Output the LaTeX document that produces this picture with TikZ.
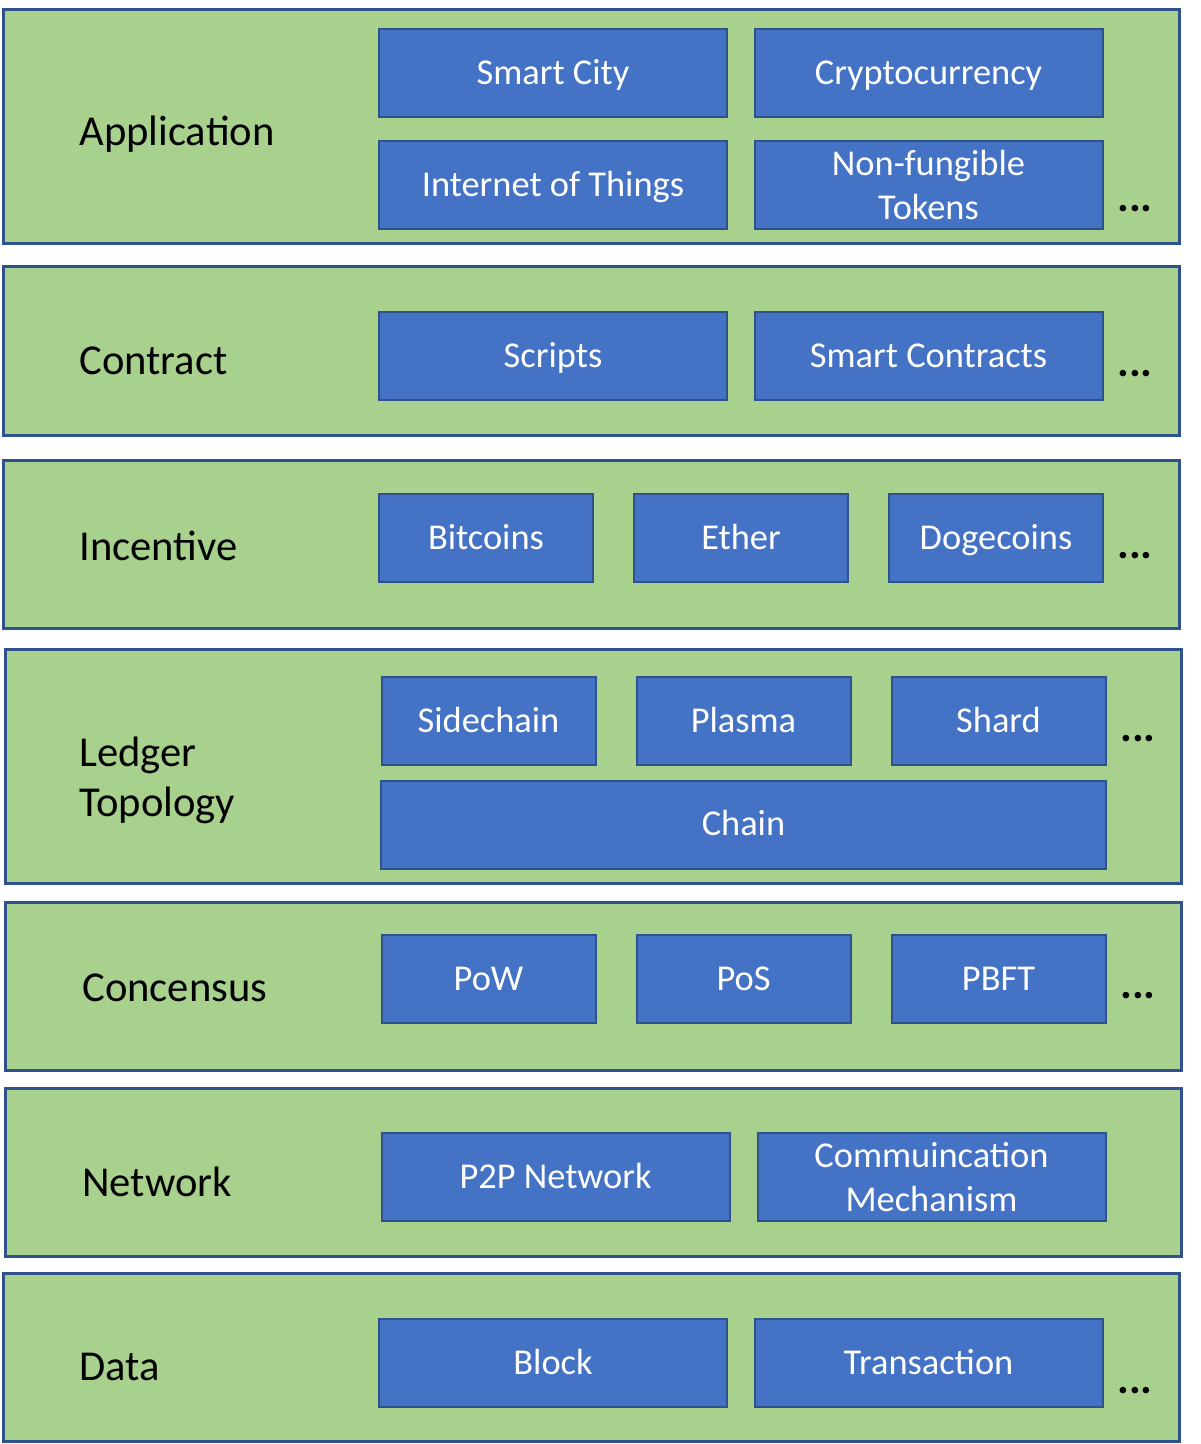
\documentclass[tikz,border=0pt]{standalone}
\usepackage{fontspec}
\setmainfont{Carlito}
\usetikzlibrary{positioning}
\definecolor{layergreen}{HTML}{A9D18E}
\definecolor{boxblue}{HTML}{4472C4}
\definecolor{edgeblue}{HTML}{2F528F}
\tikzset{
  layer/.style = {draw=edgeblue, fill=layergreen, line width=1.5pt,
    minimum width=588pt, inner sep=0pt},
  lay_s/.style = {layer, minimum height=84pt},% couche basse
  lay_t/.style = {layer, minimum height=117pt},% couche haute
  blk/.style = {draw=edgeblue, fill=boxblue, line width=1pt, text=white,
    font=\fontsize{18.2}{22}\selectfont, align=center, inner sep=0pt,
    minimum height=44pt},
  one/.style = {text height=12.2pt, text depth=1pt},% une seule ligne
  blk_w/.style = {blk, one, minimum width=174pt},% boite large
  blk_n/.style = {blk, one, minimum width=107pt},% boite etroite
  lbl/.style = {anchor=west, align=left, inner sep=0pt,
    font=\fontsize{21.3}{25}\selectfont},
  more/.style = {inner sep=0pt, font=\fontsize{22}{25}\selectfont\bfseries},
}

\begin{document}
\begin{tikzpicture}[x=0.5pt, y=-0.5pt]
\useasboundingbox (0,0) rectangle (1200,1444);
% layers
\node [lay_t] (app) at (591,127) {};
\node [lay_s] (con) at (591,351) {};
\node [lay_s] (inc) at (591,544.5) {};
\node [lay_t] (led) at (593,766.5) {};
\node [lay_s] (cns) at (593,986) {};
\node [lay_s] (net) at (593,1172.5) {};
\node [lay_s] (dat) at (591,1357.5) {};
% labels
\node [lbl] (app_l) at (79,134) {Application};
\node [lbl] (con_l) at (79,361) {Contract};
\node [lbl] (inc_l) at (79,546) {Incentive};
\node [lbl] (led_l) at (79,780) {Ledger\\Topology};
\node [lbl] (cns_l) at (82,988) {Concensus};
\node [lbl] (net_l) at (82,1182) {Network};
\node [lbl] (dat_l) at (79,1367) {Data};
% application
\node [blk_w] (city) at (553,73) {Smart City};
\node [blk_w] (coin) at (928.5,73) {Cryptocurrency};
\node [blk_w] (iot) at (553,185) {Internet of Things};
\node [blk, minimum width=174pt] (nft) at (928.5,185) {Non-fungible\\Tokens};
\node [more] (app_m) at (1135,209) {...};
% contract
\node [blk_w] (scr) at (553,356) {Scripts};
\node [blk_w] (sc) at (928.5,356) {Smart Contracts};
\node [more] (con_m) at (1135,374) {...};
% incentive
\node [blk_n] (btc) at (486,538) {Bitcoins};
\node [blk_n] (eth) at (741,538) {Ether};
\node [blk_n] (doge) at (996,538) {Dogecoins};
\node [more] (inc_m) at (1135,556) {...};
% ledger topology
\node [blk_n] (side) at (488.5,721) {Sidechain};
\node [blk_n] (plas) at (743.5,721) {Plasma};
\node [blk_n] (shard) at (998.5,721) {Shard};
\node [blk, one, minimum width=362.5pt] (chain) at (743.5,824.5) {Chain};
\node [more] (led_m) at (1138,739) {...};
% concensus
\node [blk_n] (pow) at (488.5,979) {PoW};
\node [blk_n] (pos) at (743.5,979) {PoS};
\node [blk_n] (pbft) at (998.5,979) {PBFT};
\node [more] (cns_m) at (1138,996) {...};
% network
\node [blk_w] (p2p) at (555.5,1177) {P2P Network};
\node [blk, minimum width=174pt] (comm) at (931.5,1177) {Commuincation\\Mechanism};
% data
\node [blk_w] (blo) at (553,1363) {Block};
\node [blk_w] (tx) at (928.5,1363) {Transaction};
\node [more] (dat_m) at (1135,1391) {...};
\end{tikzpicture}
\end{document}
